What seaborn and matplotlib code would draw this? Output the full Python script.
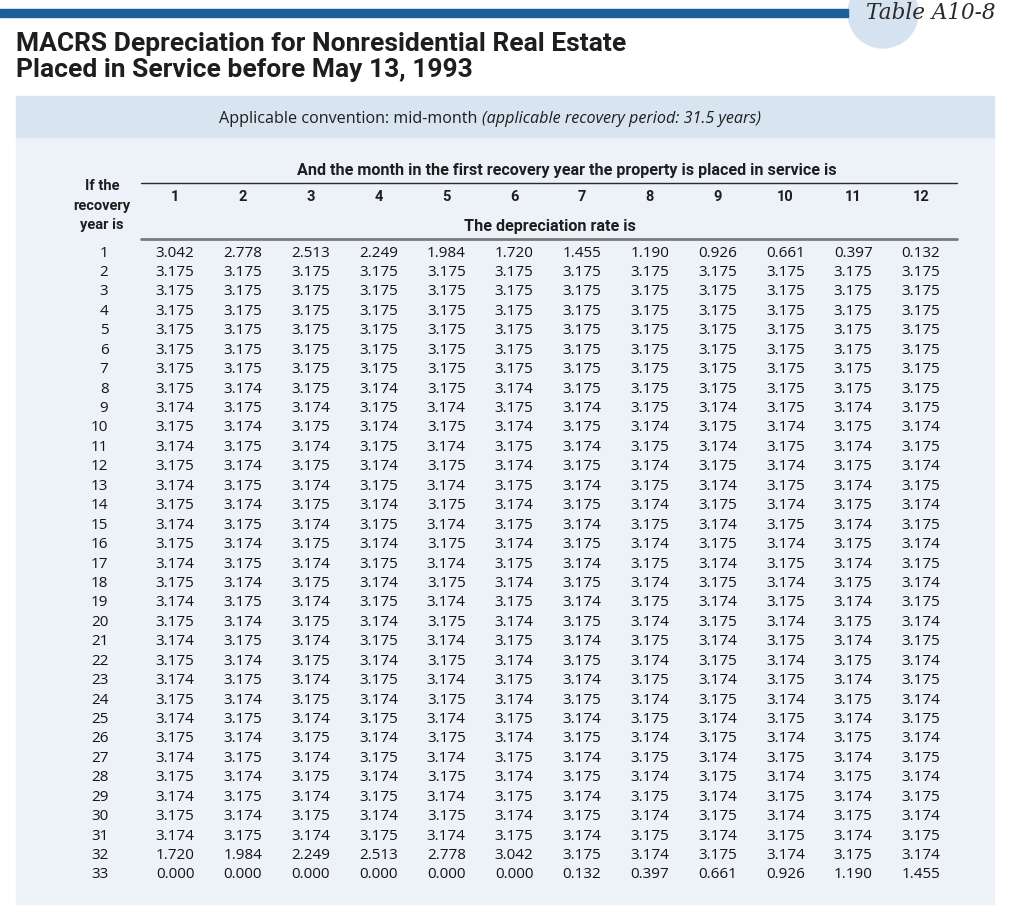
import matplotlib
matplotlib.use("Agg")
import matplotlib.pyplot as plt
from matplotlib.colors import ListedColormap
from matplotlib.patches import Circle, Rectangle
import pandas as pd
import seaborn as sns

months = ["1", "2", "3", "4", "5", "6", "7", "8", "9", "10", "11", "12"]
years = [str(y) for y in range(1, 34)]
rate_rows = [
    "3.042 2.778 2.513 2.249 1.984 1.720 1.455 1.190 0.926 0.661 0.397 0.132",
    "3.175 3.175 3.175 3.175 3.175 3.175 3.175 3.175 3.175 3.175 3.175 3.175",
    "3.175 3.175 3.175 3.175 3.175 3.175 3.175 3.175 3.175 3.175 3.175 3.175",
    "3.175 3.175 3.175 3.175 3.175 3.175 3.175 3.175 3.175 3.175 3.175 3.175",
    "3.175 3.175 3.175 3.175 3.175 3.175 3.175 3.175 3.175 3.175 3.175 3.175",
    "3.175 3.175 3.175 3.175 3.175 3.175 3.175 3.175 3.175 3.175 3.175 3.175",
    "3.175 3.175 3.175 3.175 3.175 3.175 3.175 3.175 3.175 3.175 3.175 3.175",
    "3.175 3.174 3.175 3.174 3.175 3.174 3.175 3.175 3.175 3.175 3.175 3.175",
    "3.174 3.175 3.174 3.175 3.174 3.175 3.174 3.175 3.174 3.175 3.174 3.175",
    "3.175 3.174 3.175 3.174 3.175 3.174 3.175 3.174 3.175 3.174 3.175 3.174",
    "3.174 3.175 3.174 3.175 3.174 3.175 3.174 3.175 3.174 3.175 3.174 3.175",
    "3.175 3.174 3.175 3.174 3.175 3.174 3.175 3.174 3.175 3.174 3.175 3.174",
    "3.174 3.175 3.174 3.175 3.174 3.175 3.174 3.175 3.174 3.175 3.174 3.175",
    "3.175 3.174 3.175 3.174 3.175 3.174 3.175 3.174 3.175 3.174 3.175 3.174",
    "3.174 3.175 3.174 3.175 3.174 3.175 3.174 3.175 3.174 3.175 3.174 3.175",
    "3.175 3.174 3.175 3.174 3.175 3.174 3.175 3.174 3.175 3.174 3.175 3.174",
    "3.174 3.175 3.174 3.175 3.174 3.175 3.174 3.175 3.174 3.175 3.174 3.175",
    "3.175 3.174 3.175 3.174 3.175 3.174 3.175 3.174 3.175 3.174 3.175 3.174",
    "3.174 3.175 3.174 3.175 3.174 3.175 3.174 3.175 3.174 3.175 3.174 3.175",
    "3.175 3.174 3.175 3.174 3.175 3.174 3.175 3.174 3.175 3.174 3.175 3.174",
    "3.174 3.175 3.174 3.175 3.174 3.175 3.174 3.175 3.174 3.175 3.174 3.175",
    "3.175 3.174 3.175 3.174 3.175 3.174 3.175 3.174 3.175 3.174 3.175 3.174",
    "3.174 3.175 3.174 3.175 3.174 3.175 3.174 3.175 3.174 3.175 3.174 3.175",
    "3.175 3.174 3.175 3.174 3.175 3.174 3.175 3.174 3.175 3.174 3.175 3.174",
    "3.174 3.175 3.174 3.175 3.174 3.175 3.174 3.175 3.174 3.175 3.174 3.175",
    "3.175 3.174 3.175 3.174 3.175 3.174 3.175 3.174 3.175 3.174 3.175 3.174",
    "3.174 3.175 3.174 3.175 3.174 3.175 3.174 3.175 3.174 3.175 3.174 3.175",
    "3.175 3.174 3.175 3.174 3.175 3.174 3.175 3.174 3.175 3.174 3.175 3.174",
    "3.174 3.175 3.174 3.175 3.174 3.175 3.174 3.175 3.174 3.175 3.174 3.175",
    "3.175 3.174 3.175 3.174 3.175 3.174 3.175 3.174 3.175 3.174 3.175 3.174",
    "3.174 3.175 3.174 3.175 3.174 3.175 3.174 3.175 3.174 3.175 3.174 3.175",
    "1.720 1.984 2.249 2.513 2.778 3.042 3.175 3.174 3.175 3.174 3.175 3.174",
    "0.000 0.000 0.000 0.000 0.000 0.000 0.132 0.397 0.661 0.926 1.190 1.455",
]

title_lines = ["MACRS Depreciation for Nonresidential Real Estate",
               "Placed in Service before May 13, 1993"]
table_tag = "Table A10-8"
note_plain = "Applicable convention: mid-month "
note_italic = "(applicable recovery period: 31.5 years)"
top_header = "And the month in the first recovery year the property is placed in service is"
sub_header = "The depreciation rate is"
row_header = ["If the", "recovery", "year is"]

rates = pd.DataFrame([[float(v) for v in r.split()] for r in rate_rows],
                     index=years, columns=months)

sns.set_style("white")
plt.rcParams["font.family"] = ["Open Sans", "DejaVu Sans"]

W, H = 1024, 916
BAND = "#d8e4ef"
PANEL = "#edf1f8"
INK = "#1e1e1e"

fig = plt.figure(figsize=(W / 100, H / 100), dpi=100)
bg = fig.add_axes([0, 0, 1, 1])
bg.set_xlim(0, W)
bg.set_ylim(H, 0)
bg.axis("off")

# top rule, badge and title
bg.add_patch(Circle((883, 13), 35, color="#d5e2ef", zorder=1))
bg.add_patch(Rectangle((0, 9), 848, 8, color="#1c5f9b", zorder=2))
bg.text(995, 19, table_tag, ha="right", va="baseline", fontsize=15.5,
        style="italic", family="DejaVu Serif", color="#2a2a2a", zorder=3)
bg.text(16, 51, title_lines[0], ha="left", va="baseline", fontsize=19,
        fontweight="bold", family="Roboto", color=INK)
bg.text(16, 77, title_lines[1], ha="left", va="baseline", fontsize=19,
        fontweight="bold", family="Roboto", color=INK)

# shaded band and table panel
bg.add_patch(Rectangle((16, 96), 978, 42, color=BAND, zorder=0))
bg.add_patch(Rectangle((16, 138), 978, 766, color=PANEL, zorder=0))
t1 = bg.text(219, 123, note_plain, ha="left", va="baseline", fontsize=11.6,
             family="Open Sans", color=INK)
bg.annotate(note_italic, xy=(1, 0), xycoords=t1, ha="left", va="bottom",
            fontsize=11.6, family="Open Sans", style="italic", color=INK)

# column headers
bg.text(567, 175, top_header, ha="center", va="baseline", fontsize=11.6,
        family="Roboto", fontweight="bold", color=INK)
bg.plot([141, 957], [183, 183], color="#2a2a2a", lw=1.0)
bg.text(550, 231, sub_header, ha="center", va="baseline", fontsize=11.6,
        family="Roboto", fontweight="bold", color=INK)
bg.plot([141, 957], [238.5, 238.5], color="#7a7a7a", lw=2.0)
for y, s in zip([190, 210, 229], row_header):
    bg.text(102, y, s, ha="center", va="baseline", fontsize=10.5,
            family="Roboto", fontweight="bold", color=INK)

# the rate table itself
left, right = 141.1, 954.9
top, bottom = 243.3, 884.7
ax = fig.add_axes([left / W, 1 - bottom / H, (right - left) / W, (bottom - top) / H])
sns.heatmap(rates, ax=ax, annot=True, fmt=".3f", cbar=False,
            cmap=ListedColormap([PANEL]), linewidths=0,
            annot_kws={"fontsize": 11, "family": "Open Sans", "color": "#141414"})
ax.set_facecolor("none")
ax.xaxis.tick_top()
ax.set_xlabel("")
ax.set_ylabel("")
ax.tick_params(axis="both", length=0)
ax.tick_params(axis="x", pad=28)
ax.tick_params(axis="y", pad=23.5)
for lab in ax.get_xticklabels():
    lab.set_fontfamily("Roboto")
    lab.set_fontweight("bold")
    lab.set_fontsize(10.5)
    lab.set_color(INK)
for lab in ax.get_yticklabels():
    lab.set_rotation(0)
    lab.set_fontsize(11)
    lab.set_fontfamily("Open Sans")
    lab.set_color("#141414")
for s in ax.spines.values():
    s.set_visible(False)

fig.savefig("out.png", dpi=100, facecolor="white")
